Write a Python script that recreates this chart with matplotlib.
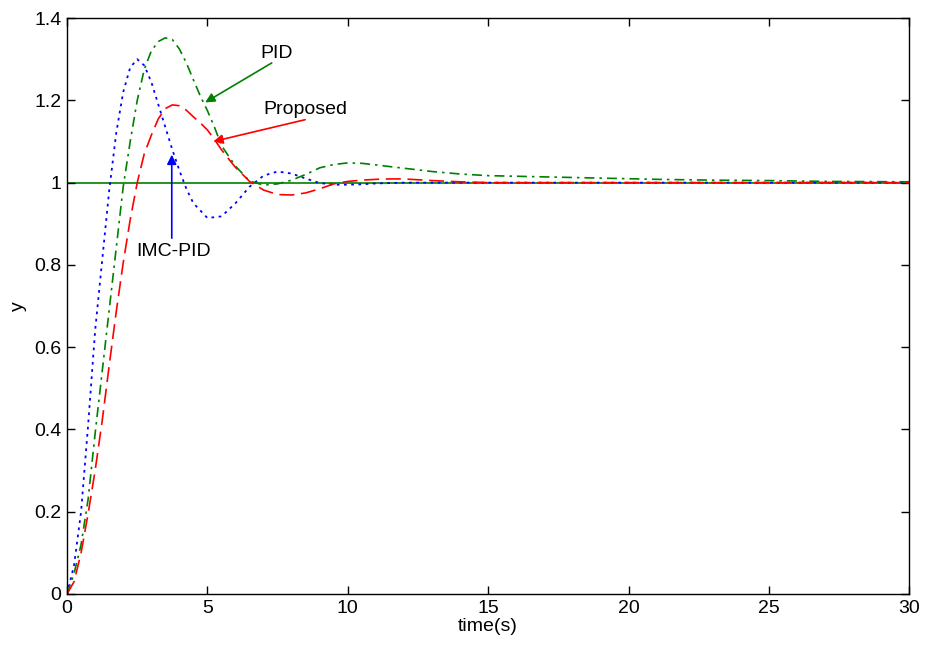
import matplotlib
matplotlib.use("Agg")
import matplotlib.pyplot as plt
import numpy as np

plt.rcParams['font.family'] = ['Liberation Sans', 'DejaVu Sans']

# IMC-PID (blue dotted)
t_imc = [0, 0.25, 0.5, 0.75, 1.0, 1.25, 1.5, 1.75, 2.0, 2.25, 2.5, 2.75, 3.0, 3.25, 3.5,
         3.75, 4.0, 4.25, 4.5, 5.0, 5.5, 6.0, 6.5, 7.0, 7.5, 8.0, 8.5, 9.0, 9.5, 10, 10.5,
         11, 12, 13, 15, 20, 25, 30]
y_imc = [0, 0.07, 0.2, 0.41, 0.64, 0.81, 0.98, 1.12, 1.22, 1.28, 1.30, 1.285, 1.245, 1.19,
         1.135, 1.08, 1.03, 0.985, 0.95, 0.914, 0.918, 0.95, 0.99, 1.017, 1.027, 1.022,
         1.01, 0.999, 0.995, 0.995, 0.996, 0.998, 1.0, 1.0, 1.0, 1.0, 1.0, 1.0]

# PID (green dash-dot)
t_pid = [0, 0.25, 0.5, 0.75, 1.0, 1.25, 1.5, 1.75, 2.0, 2.25, 2.5, 2.75, 3.0, 3.25, 3.5,
         3.75, 4.0, 4.25, 4.5, 4.75, 5.0, 5.25, 5.5, 5.75, 6.0, 6.5, 7.0, 7.5, 8.0, 8.5,
         9.0, 9.5, 10, 10.5, 11, 12, 13, 14, 15, 17, 19, 21, 23, 25, 27, 30]
y_pid = [0, 0.05, 0.12, 0.23, 0.39, 0.54, 0.69, 0.84, 0.99, 1.10, 1.20, 1.275, 1.32, 1.343,
         1.352, 1.348, 1.325, 1.291, 1.25, 1.21, 1.175, 1.135, 1.09, 1.065, 1.04, 1.004,
         0.994, 0.997, 1.006, 1.02, 1.036, 1.044, 1.048, 1.047, 1.043, 1.035, 1.027, 1.021,
         1.017, 1.014, 1.011, 1.008, 1.006, 1.005, 1.003, 1.002]

# Proposed (red dashed)
t_prop = [0, 0.25, 0.5, 0.75, 1.0, 1.25, 1.5, 1.75, 2.0, 2.25, 2.5, 2.75, 3.0, 3.25, 3.5,
          3.75, 4.0, 4.25, 4.5, 4.75, 5.0, 5.25, 5.5, 5.75, 6.0, 6.5, 7.0, 7.5, 8.0, 8.5,
          9.0, 9.5, 10, 10.5, 11, 11.5, 12, 13, 14, 15, 20, 30]
y_prop = [0, 0.03, 0.1, 0.195, 0.3, 0.42, 0.555, 0.685, 0.805, 0.91, 1.0, 1.07, 1.115,
          1.155, 1.18, 1.189, 1.187, 1.176, 1.16, 1.145, 1.128, 1.105, 1.08, 1.058, 1.037,
          1.003, 0.982, 0.971, 0.97, 0.975, 0.985, 0.997, 1.003, 1.006, 1.008, 1.009,
          1.009, 1.005, 1.002, 1.0, 1.0, 1.0]

setpoint = 1.0
x_ticks = [0, 5, 10, 15, 20, 25, 30]
y_ticks = [0, 0.2, 0.4, 0.6, 0.8, 1.0, 1.2, 1.4]
y_tick_labels = ['0', '0.2', '0.4', '0.6', '0.8', '1', '1.2', '1.4']

# annotations: label, text position, arrow tail, arrow head
ann_labels = ['PID', 'Proposed', 'IMC-PID']
ann_text_xy = [(7.47, 1.315), (8.48, 1.178), (3.79, 0.833)]
ann_tail_xy = [(7.29, 1.291), (8.48, 1.153), (3.73, 0.865)]
ann_head_xy = [(4.92, 1.195), (5.21, 1.10), (3.73, 1.068)]

GREEN = '#008000'
ann_colors = [GREEN, 'red', 'blue']

fig = plt.figure(figsize=(9.26, 6.46), dpi=100)
ax = fig.add_axes([0.0724, 0.0805, 0.9096, 0.8915])

ax.plot([0, 30], [setpoint, setpoint], color=GREEN, lw=1.2, zorder=1)
ax.plot(t_imc, y_imc, color='blue', ls=(0, (1.5, 2.5)), lw=1.3)
ax.plot(t_pid, y_pid, color=GREEN, ls=(0, (6, 3, 1.5, 3)), lw=1.2)
ax.plot(t_prop, y_prop, color='red', ls=(0, (9, 4)), lw=1.2)

fs = 14
for lab, txy, tail, head, c in zip(ann_labels, ann_text_xy, ann_tail_xy, ann_head_xy, ann_colors):
    ax.text(txy[0], txy[1], lab, fontsize=fs, ha='center', va='center', zorder=5)
    ax.annotate('', xy=head, xytext=tail,
                arrowprops=dict(arrowstyle='-|>', color=c, lw=1.2, mutation_scale=14,
                                shrinkA=0, shrinkB=0))

ax.set_xlim(0, 30)
ax.set_ylim(0, 1.4)
ax.set_xticks(x_ticks)
ax.set_xticklabels([str(v) for v in x_ticks])
ax.set_yticks(y_ticks)
ax.set_yticklabels(y_tick_labels)
ax.tick_params(direction='in', top=True, right=True, length=6, width=1,
               labelsize=fs, pad=4)
for s in ax.spines.values():
    s.set_linewidth(1.0)
ax.set_xlabel('time(s)', fontsize=fs, labelpad=1)
ax.set_ylabel('y', fontsize=fs, labelpad=5)

fig.savefig('out.png', dpi=100)
